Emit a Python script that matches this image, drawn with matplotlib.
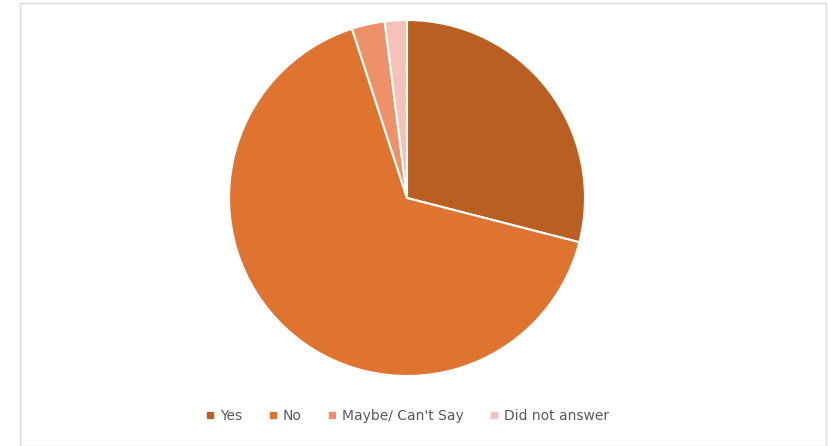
import matplotlib.pyplot as plt
from matplotlib.patches import Rectangle
from matplotlib.lines import Line2D

labels = ["Yes", "No", "Maybe/ Can't Say", "Did not answer"]
shares = [29, 66, 3, 2]
colors = ["#B95F22", "#DE742F", "#EE9068", "#F5C2B8"]

W, H = 829, 446
fig = plt.figure(figsize=(W / 100, H / 100), dpi=100)
fig.patch.set_facecolor("white")

# chart border
fig.add_artist(Rectangle((20 / W, 0), 806 / W, 443 / H, transform=fig.transFigure,
                         fill=False, edgecolor="#D9D9D9", linewidth=1))

cx, cy, r = 407, 198, 178
ax = fig.add_axes([(cx - r) / W, 1 - (cy + r) / H, 2 * r / W, 2 * r / H])
ax.pie(shares, colors=colors, startangle=90, counterclock=False,
       wedgeprops=dict(edgecolor="white", linewidth=1.5))
ax.set_xlim(-1, 1)
ax.set_ylim(-1, 1)
ax.set_aspect("equal")
ax.axis("off")

handles = [Line2D([], [], marker="s", linestyle="none", markersize=4,
                  markerfacecolor=c, markeredgecolor=c) for c in colors]
fig.legend(handles, labels, loc="center", bbox_to_anchor=(406 / W, 1 - 416 / H),
           ncol=4, frameon=False, fontsize=10, handletextpad=0.2, handlelength=1,
           columnspacing=1.7, labelcolor="#595959")

fig.savefig("out.png", dpi=100)
